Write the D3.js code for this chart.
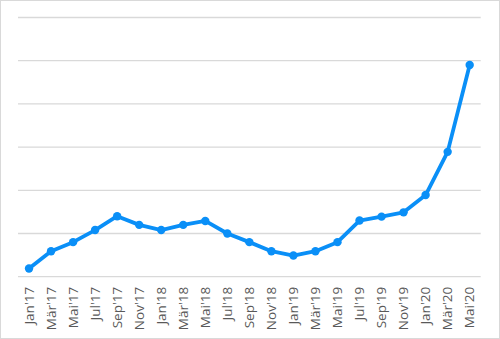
<!DOCTYPE html>
<html>
<head>
<meta charset="utf-8">
<script src="https://cdn.jsdelivr.net/npm/d3@7"></script>
<style>
  html, body { margin: 0; padding: 0; background: #fff; }
  svg { display: block; }
</style>
</head>
<body>
<svg id="chart" width="500" height="339"></svg>
<script>
// Monthly labels (every second month)
const months = ["Jan'17","Mär'17","Mai'17","Jul'17","Sep'17","Nov'17",
                "Jan'18","Mär'18","Mai'18","Jul'18","Sep'18","Nov'18",
                "Jan'19","Mär'19","Mai'19","Jul'19","Sep'19","Nov'19",
                "Jan'20","Mär'20","Mai'20"];
const values = [1.9, 5.9, 8.0, 10.8, 14.0, 12.0,
                10.8, 12.0, 12.9, 10.0, 8.0, 5.9,
                4.9, 5.9, 8.0, 13.0, 13.9, 14.9,
                18.9, 28.9, 49.0];
const gridTicks = [0, 10, 20, 30, 40, 50, 60];

const W = 500, H = 339;
const margin = { top: 17.5, right: 19.3, bottom: 62.3, left: 18 };
const svg = d3.select("#chart");

// outer frame
svg.append("rect")
  .attr("x", 0.5).attr("y", 0.5)
  .attr("width", W - 1).attr("height", H - 1)
  .attr("fill", "#fff").attr("stroke", "#d9d9d9").attr("stroke-width", 1);

const x = d3.scaleBand()
  .domain(months)
  .range([margin.left, W - margin.right]);

const y = d3.scaleLinear()
  .domain([0, 60])
  .range([H - margin.bottom, margin.top]);

// horizontal gridlines
svg.append("g")
  .selectAll("line")
  .data(gridTicks)
  .join("line")
  .attr("x1", margin.left).attr("x2", W - margin.right)
  .attr("y1", d => y(d)).attr("y2", d => y(d))
  .attr("stroke", "#d9d9d9").attr("stroke-width", 1.3);

// category axis with rotated labels
const xAxis = svg.append("g")
  .attr("transform", `translate(0,${H - margin.bottom})`)
  .call(d3.axisBottom(x).tickSize(0).tickPadding(0));
xAxis.select(".domain").remove();
xAxis.selectAll("text")
  .attr("transform", "translate(0,10) rotate(-90)")
  .attr("text-anchor", "end")
  .attr("dx", 0)
  .attr("dy", "0.35em")
  .attr("x", 0).attr("y", 0)
  .style("font-family", "'Open Sans', 'Liberation Sans', sans-serif")
  .style("font-size", "13.5px")
  .style("fill", "#595959");

const cx = d => x(d) + x.bandwidth() / 2;
const data = months.map((m, i) => ({ m, v: values[i] }));

// the series line
svg.append("path")
  .datum(data)
  .attr("fill", "none")
  .attr("stroke", "#0a8ff7")
  .attr("stroke-width", 3.8)
  .attr("stroke-linejoin", "round")
  .attr("d", d3.line().x(d => cx(d.m)).y(d => y(d.v)));

// markers
svg.append("g")
  .selectAll("circle")
  .data(data)
  .join("circle")
  .attr("cx", d => cx(d.m))
  .attr("cy", d => y(d.v))
  .attr("r", 4.2)
  .attr("fill", "#0a8ff7");
</script>
</body>
</html>
